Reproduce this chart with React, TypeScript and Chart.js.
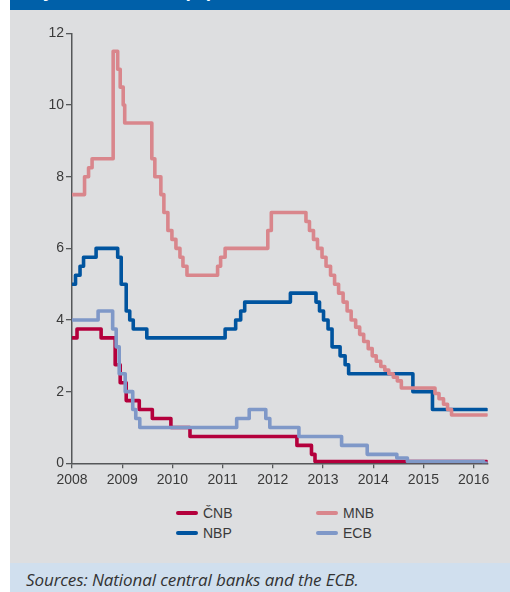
import React, { useEffect, useRef } from "react";
import { Chart, registerables } from "chart.js";

Chart.register(...registerables);

// ---- data (decimal year of each rate change, and the new rate in %) ----
const cnbDates = [2008.0, 2008.1, 2008.58, 2008.86, 2008.96, 2009.08, 2009.34, 2009.6, 2009.97, 2010.35, 2012.48, 2012.77, 2012.84, 2016.26];
const cnbRates = [3.5, 3.75, 3.5, 2.75, 2.25, 1.75, 1.5, 1.25, 1.0, 0.75, 0.5, 0.25, 0.05, 0.05];

const nbpDates = [2008.0, 2008.07, 2008.16, 2008.23, 2008.48, 2008.91, 2008.98, 2009.08, 2009.15, 2009.22, 2009.49, 2011.05, 2011.26, 2011.36, 2011.44, 2012.35, 2012.86, 2012.93, 2013.01, 2013.1, 2013.18, 2013.34, 2013.44, 2013.51, 2014.79, 2015.18, 2016.26];
const nbpRates = [5.0, 5.25, 5.5, 5.75, 6.0, 5.75, 5.0, 4.25, 4.0, 3.75, 3.5, 3.75, 4.0, 4.25, 4.5, 4.75, 4.5, 4.25, 4.0, 3.75, 3.25, 3.0, 2.75, 2.5, 2.0, 1.5, 1.5];

const mnbDates = [2008.0, 2008.25, 2008.33, 2008.4, 2008.82, 2008.91, 2008.96, 2009.02, 2009.05, 2009.59, 2009.65, 2009.77, 2009.83, 2009.91, 2009.99, 2010.07, 2010.15, 2010.21, 2010.29, 2010.9, 2010.96, 2011.05, 2011.9, 2011.97, 2012.66, 2012.73, 2012.81, 2012.89, 2012.98, 2013.06, 2013.15, 2013.23, 2013.31, 2013.4, 2013.48, 2013.56, 2013.65, 2013.73, 2013.81, 2013.9, 2013.98, 2014.06, 2014.15, 2014.23, 2014.31, 2014.4, 2014.48, 2014.56, 2015.23, 2015.31, 2015.4, 2015.48, 2015.56, 2016.26];
const mnbRates = [7.5, 8.0, 8.25, 8.5, 11.5, 11.0, 10.5, 10.0, 9.5, 8.5, 8.0, 7.5, 7.0, 6.5, 6.25, 6.0, 5.75, 5.5, 5.25, 5.5, 5.75, 6.0, 6.5, 7.0, 6.75, 6.5, 6.25, 6.0, 5.75, 5.5, 5.25, 5.0, 4.75, 4.5, 4.25, 4.0, 3.8, 3.6, 3.4, 3.2, 3.0, 2.85, 2.7, 2.6, 2.5, 2.4, 2.3, 2.1, 1.95, 1.8, 1.65, 1.5, 1.35, 1.35];

const ecbDates = [2008.0, 2008.52, 2008.81, 2008.88, 2008.94, 2009.06, 2009.21, 2009.27, 2009.35, 2011.28, 2011.53, 2011.86, 2011.94, 2012.52, 2013.37, 2013.88, 2014.47, 2014.68, 2016.2, 2016.26];
const ecbRates = [4.0, 4.25, 3.75, 3.25, 2.5, 2.0, 1.5, 1.25, 1.0, 1.25, 1.5, 1.25, 1.0, 0.75, 0.5, 0.25, 0.15, 0.05, 0.0, 0.0];

const seriesNames = ["ČNB", "NBP", "MNB", "ECB"];
const seriesColors = ["#b4003c", "#00549f", "#d9868c", "#7f98c8"];
const xTickYears = [2008, 2009, 2010, 2011, 2012, 2013, 2014, 2015, 2016];
const yTickValues = [0, 2, 4, 6, 8, 10, 12];

const titleText = "Policy interest rates (%)";
const sourceText = "Sources: National central banks and the ECB.";

const zip = (d: number[], r: number[]) => d.map((x, i) => ({ x, y: r[i] }));

const tickFont = { family: "'Liberation Sans', Arial, sans-serif", size: 14 };

export default function App() {
  const ref = useRef<HTMLCanvasElement | null>(null);

  useEffect(() => {
    document.documentElement.style.overflow = "hidden";
    document.body.style.margin = "0";
    document.body.style.overflow = "hidden";
    const canvas = ref.current;
    if (!canvas) return;
    const all = [
      zip(cnbDates, cnbRates),
      zip(nbpDates, nbpRates),
      zip(mnbDates, mnbRates),
      zip(ecbDates, ecbRates),
    ];
    const drawOrder = [3, 2, 1, 0];
    const chart = new Chart(canvas, {
      type: "line",
      data: {
        datasets: all.map((pts, i) => ({
          label: seriesNames[i],
          data: pts,
          borderColor: seriesColors[i],
          backgroundColor: seriesColors[i],
          borderWidth: 3.6,
          pointRadius: 0,
          stepped: true,
          fill: false,
          borderCapStyle: "round" as const,
          borderJoinStyle: "round" as const,
          order: drawOrder[i],
        })),
      },
      options: {
        animation: false,
        responsive: false,
        maintainAspectRatio: false,
        parsing: false as any,
        layout: { padding: { top: 23.4, right: 22.3, left: 0, bottom: 0 } },
        plugins: { legend: { display: false }, tooltip: { enabled: false } },
        events: [],
        scales: {
          x: {
            type: "linear",
            min: 2008,
            max: 2016.28,
            afterBuildTicks: (s: any) => {
              s.ticks = xTickYears.map((v) => ({ value: v }));
            },
            afterFit: (s: any) => {
              s.height = 36.7;
            },
            grid: { drawOnChartArea: false, drawTicks: true, tickLength: 5, color: "#555759", lineWidth: 1.3 },
            border: { display: true, color: "#555759", width: 1.5 },
            ticks: { font: tickFont, color: "#3a3a3a", padding: 3, maxRotation: 0, autoSkip: false, callback: (v: any) => String(v) },
          },
          y: {
            type: "linear",
            min: 0,
            max: 12,
            afterBuildTicks: (s: any) => {
              s.ticks = yTickValues.map((v) => ({ value: v }));
            },
            afterFit: (s: any) => {
              s.width = 62;
            },
            grid: { drawOnChartArea: false, drawTicks: true, tickLength: 6, color: "#555759", lineWidth: 1.3 },
            border: { display: true, color: "#555759", width: 1.5 },
            ticks: { font: tickFont, color: "#3a3a3a", padding: 2, callback: (v: any) => String(v) },
          },
        },
      },
    } as any);
    return () => chart.destroy();
  }, []);

  const legendItems = [
    { i: 0, left: 176, top: 512.5 },
    { i: 2, left: 316, top: 512.5 },
    { i: 1, left: 176, top: 532.7 },
    { i: 3, left: 316, top: 532.7 },
  ];

  return (
    <div style={{ position: "fixed", left: 0, top: 0, width: 510, height: 592, background: "#ffffff", overflow: "hidden" }}>
      <div style={{ position: "absolute", left: 10, top: 0, width: 500, height: 10, background: "#0060a9", overflow: "hidden" }}>
        <span
          style={{
            position: "absolute",
            right: 297,
            top: -19,
            lineHeight: "19px",
            fontSize: 19,
            fontWeight: "bold",
            color: "#ffffff",
            whiteSpace: "nowrap",
            fontFamily: "'Liberation Sans', Arial, sans-serif",
          }}
        >
          {titleText}
        </span>
      </div>
      <div style={{ position: "absolute", left: 10, top: 10, width: 500, height: 553, background: "#dddee0" }} />
      <canvas ref={ref} width={500} height={490} style={{ position: "absolute", left: 10, top: 10, width: 500, height: 490 }} />
      {legendItems.map(({ i, left, top }) => (
        <div key={i} style={{ position: "absolute", left, top: top - 10, height: 20, display: "flex", alignItems: "center" }}>
          <div style={{ width: 22, height: 4, borderRadius: 2, background: seriesColors[i] }} />
          <span
            style={{
              marginLeft: 5,
              fontSize: 14,
              lineHeight: "20px",
              color: "#3a3a3a",
              fontFamily: "'Liberation Sans', Arial, sans-serif",
            }}
          >
            {seriesNames[i]}
          </span>
        </div>
      ))}
      <div style={{ position: "absolute", left: 10, top: 563, width: 500, height: 29, background: "#d0dfee", overflow: "hidden" }}>
        <span
          style={{
            position: "absolute",
            left: 16,
            top: 5,
            fontSize: 17,
            lineHeight: "24px",
            fontStyle: "italic",
            color: "#333333",
            whiteSpace: "nowrap",
            letterSpacing: "-0.1px",
            fontFamily: "'Open Sans', 'Noto Sans', sans-serif",
          }}
        >
          {sourceText}
        </span>
      </div>
    </div>
  );
}
